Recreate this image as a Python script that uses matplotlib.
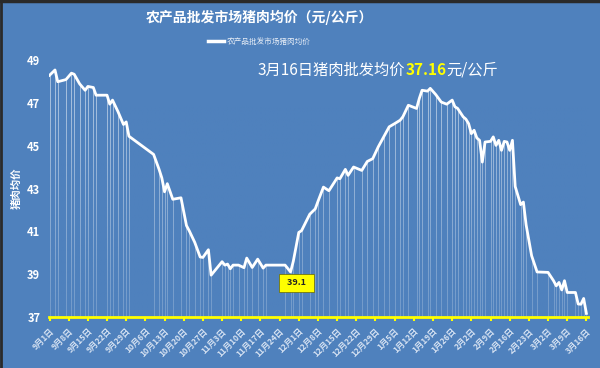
import matplotlib
matplotlib.use('Agg')
import matplotlib.pyplot as plt
import matplotlib.dates as mdates
from matplotlib.colors import to_rgb
from matplotlib.lines import Line2D
import numpy as np
import pandas as pd

plt.rcParams['font.family'] = ['Noto Sans CJK SC', 'DejaVu Sans']

# daily wholesale pork price (yuan/kg)
dates = ['2020-09-01', '2020-09-03', '2020-09-04', '2020-09-07', '2020-09-09',
         '2020-09-10', '2020-09-12', '2020-09-14', '2020-09-15', '2020-09-17',
         '2020-09-18', '2020-09-22', '2020-09-23', '2020-09-24', '2020-09-26',
         '2020-09-28', '2020-09-29', '2020-09-30',
         '2020-10-09', '2020-10-11', '2020-10-12', '2020-10-13', '2020-10-14',
         '2020-10-16', '2020-10-19', '2020-10-21', '2020-10-22', '2020-10-24',
         '2020-10-26', '2020-10-27', '2020-10-29', '2020-10-30',
         '2020-11-03', '2020-11-04', '2020-11-05', '2020-11-06', '2020-11-07',
         '2020-11-09', '2020-11-11', '2020-11-12', '2020-11-14', '2020-11-16',
         '2020-11-18', '2020-11-19', '2020-11-26', '2020-11-28', '2020-11-29',
         '2020-12-01', '2020-12-02', '2020-12-05', '2020-12-07', '2020-12-08',
         '2020-12-10', '2020-12-12', '2020-12-15', '2020-12-16', '2020-12-18',
         '2020-12-19', '2020-12-21', '2020-12-24', '2020-12-26', '2020-12-28',
         '2020-12-30',
         '2021-01-01', '2021-01-03', '2021-01-05', '2021-01-07', '2021-01-08',
         '2021-01-10', '2021-01-13', '2021-01-14', '2021-01-15', '2021-01-17',
         '2021-01-18', '2021-01-20', '2021-01-22', '2021-01-24', '2021-01-26',
         '2021-01-27', '2021-01-28', '2021-01-30', '2021-01-31',
         '2021-02-01', '2021-02-02', '2021-02-03', '2021-02-04', '2021-02-05',
         '2021-02-06', '2021-02-07', '2021-02-09', '2021-02-10', '2021-02-11',
         '2021-02-12', '2021-02-13', '2021-02-14', '2021-02-15', '2021-02-16',
         '2021-02-17', '2021-02-18', '2021-02-20', '2021-02-21', '2021-02-22',
         '2021-02-24', '2021-02-26',
         '2021-03-02', '2021-03-04', '2021-03-05', '2021-03-06', '2021-03-07',
         '2021-03-08', '2021-03-09', '2021-03-12', '2021-03-13', '2021-03-14',
         '2021-03-15', '2021-03-16']
prices = [48.3, 48.55, 48.0, 48.1, 48.4,
          48.35, 47.9, 47.6, 47.78, 47.73,
          47.37, 47.37, 46.95, 47.14, 46.6,
          46.0, 46.12, 45.45,
          44.6, 43.9, 43.5, 42.85, 43.23,
          42.5, 42.57, 41.27, 41.03, 40.49,
          39.8, 39.78, 40.14, 38.95,
          39.58, 39.42, 39.47, 39.25, 39.42,
          39.42, 39.3, 39.75, 39.31, 39.7,
          39.28, 39.42, 39.42, 39.1, 39.6,
          40.95, 41.03, 41.8, 42.05, 42.4,
          43.07, 42.9, 43.5, 43.46, 43.9,
          43.62, 44.01, 43.85, 44.27, 44.4,
          44.95,
          45.42, 45.89, 46.04, 46.2, 46.36,
          46.9, 46.75, 47.22, 47.6, 47.56,
          47.69, 47.4, 47.05, 46.95, 47.14,
          46.83, 46.75, 46.36, 46.25,
          46.04, 45.57, 45.73, 45.37, 45.26,
          44.24, 45.18, 45.21, 45.42, 45.02,
          45.26, 44.79, 45.21, 45.18, 44.79,
          45.26, 43.1, 42.25, 42.37, 41.3,
          39.86, 39.1,
          39.08, 38.69, 38.45, 38.61, 38.26,
          38.69, 38.14, 38.14, 37.6, 37.59,
          37.86, 37.16]

tick_dates = pd.date_range('2020-09-01', '2021-03-16', freq='7D')
tick_labels = ['9月1日', '9月8日', '9月15日', '9月22日', '9月29日', '10月6日',
               '10月13日', '10月20日', '10月27日', '11月3日', '11月10日',
               '11月17日', '11月24日', '12月1日', '12月8日', '12月15日',
               '12月22日', '12月29日', '1月5日', '1月12日', '1月19日',
               '1月26日', '2月2日', '2月9日', '2月16日', '2月23日', '3月2日',
               '3月9日', '3月16日']
y_ticks = [37, 39, 41, 43, 45, 47, 49]
low_date = '2020-11-28'

bg = '#4F81BD'
x = pd.to_datetime(dates)
x0 = pd.Timestamp('2020-09-01') - pd.Timedelta(hours=8)
x1 = pd.Timestamp('2021-03-16') + pd.Timedelta(hours=14)

fig = plt.figure(figsize=(6, 3.68), dpi=100, facecolor=bg)
ax = fig.add_axes([0.081, 0.139, 0.899, 0.697])
ax.set_facecolor(bg)

# thin drop lines down to the axis
ax.vlines(x, 37, prices, color='white', alpha=0.5, lw=0.7, zorder=2)
# fade the drop lines towards the bottom
grad = np.zeros((100, 2, 4))
grad[..., :3] = to_rgb(bg)
grad[..., 3] = np.linspace(0, 0.6, 100)[:, None]
ax.imshow(grad, extent=[mdates.date2num(x0), mdates.date2num(x1), 37, 47],
          aspect='auto', origin='upper', zorder=2.5, interpolation='bilinear')
ax.plot(x, prices, color='white', lw=2, zorder=3, label='农产品批发市场猪肉均价')

ax.set_ylim(37, 49)
ax.set_xlim(x0, x1)
ax.set_yticks(y_ticks)
ax.set_xticks(tick_dates)
ax.set_xticklabels(tick_labels, rotation=45, ha='right', rotation_mode='anchor',
                   fontsize=6, fontweight='bold', color='#D6E2F2')
for lab in ax.get_yticklabels():
    lab.set_fontweight('bold')
ax.tick_params(axis='y', length=0, labelsize=8, labelcolor='white', pad=6)
ax.tick_params(axis='x', length=3, width=1.5, color='yellow', pad=4)
for s in ['top', 'right', 'left']:
    ax.spines[s].set_visible(False)
ax.spines['bottom'].set_color('yellow')
ax.spines['bottom'].set_linewidth(2)
ax.spines['bottom'].set_zorder(4)

ax.set_ylabel('猪肉均价', color='white', fontsize=7.5, fontweight='bold', labelpad=4)

# label for the November low
i = dates.index(low_date)
ax.annotate('  ' + f'{prices[i]:.1f}' + '  ', xy=(x[i], prices[i]), xytext=(6, -11),
            textcoords='offset pixels', ha='center', va='center', fontsize=6.5,
            fontweight='bold', color='#222222', zorder=5,
            bbox=dict(boxstyle='square,pad=0.45', fc='yellow', ec='#666600', lw=0.5))

fig.text(259 / 600, 1 - 17 / 368, '农产品批发市场猪肉均价（元/公斤）', ha='center',
         va='center', fontsize=10, fontweight='bold', color='white')
leg = fig.legend(loc='center', bbox_to_anchor=(259 / 600, 1 - 42 / 368), frameon=False,
                 fontsize=5.5, labelcolor='#E8EEF7', handlelength=2.2, handletextpad=0.3)
for h in leg.get_lines():
    h.set_linewidth(2.5)

# headline with the latest price highlighted
yy = 1 - 70 / 368
parts = [('3月16日猪肉批发均价', 'white', 'normal'), ('37.16', 'yellow', 'bold'),
         ('元/公斤', 'white', 'normal')]
fig.canvas.draw()
xpos = 258
for txt, col, w in parts:
    t = fig.text(xpos / 600, yy, txt, ha='left', va='center', fontsize=11,
                 color=col, fontweight=w)
    fig.canvas.draw()
    xpos = t.get_window_extent().x1

# dark screenshot edge at top and left
fig.add_artist(Line2D([0, 1], [0.997, 0.997], color='#2A2A2A', lw=2.5))
fig.add_artist(Line2D([0.002, 0.002], [0, 1], color='#2A2A2A', lw=2))

fig.savefig('out.png', dpi=100, facecolor=bg)
